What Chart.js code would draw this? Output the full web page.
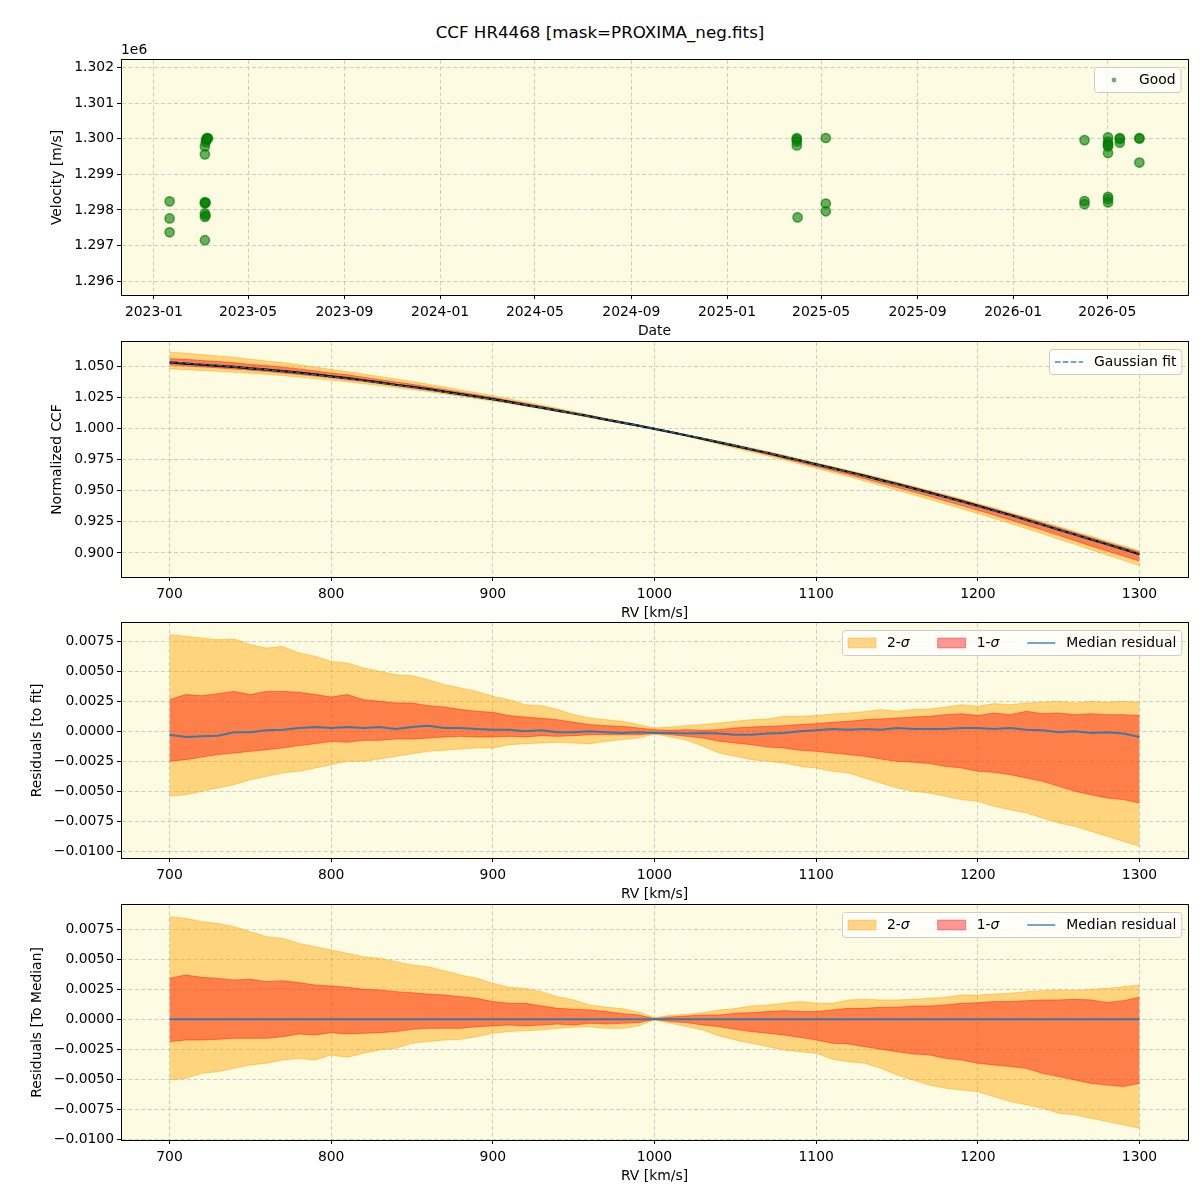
<!DOCTYPE html>
<html><head><meta charset="utf-8">
<script src="https://cdn.jsdelivr.net/npm/chart.js@4"></script>
<style>
html,body{margin:0;padding:0;background:#fff;}
#wrap{position:relative;width:1200px;height:1200px;overflow:hidden;background:#fff;}
canvas{position:absolute;left:0;}
#title{position:absolute;left:0;width:1200px;top:22px;text-align:center;font-family:'DejaVu Sans',sans-serif;font-size:16.7px;color:#000;line-height:20px;}
</style></head><body>
<div id="wrap">
<div id="title">CCF HR4468 [mask=PROXIMA_neg.fits]</div>
<canvas id="c1" width="1200" height="303" style="top:40px"></canvas>
<canvas id="c2" width="1200" height="303" style="top:322px"></canvas>
<canvas id="c3" width="1200" height="303" style="top:603px"></canvas>
<canvas id="c4" width="1200" height="303" style="top:885px"></canvas>
</div>
<script>
// ---------------- DATA ----------------
const obsDates = ['2023-01-21','2023-01-21','2023-01-21',
  '2023-03-07','2023-03-07','2023-03-07','2023-03-07','2023-03-07','2023-03-07','2023-03-07',
  '2023-03-08','2023-03-08','2023-03-08','2023-03-09','2023-03-09','2023-03-10','2023-03-10','2023-03-11',
  '2025-03-31','2025-03-31','2025-03-31','2025-03-31','2025-04-01',
  '2025-05-07','2025-05-07','2025-05-07',
  '2026-04-02','2026-04-02','2026-04-02',
  '2026-05-02','2026-05-02','2026-05-02','2026-05-02','2026-05-02','2026-05-02','2026-05-02','2026-05-02','2026-05-02',
  '2026-05-17','2026-05-17','2026-05-17',
  '2026-06-11','2026-06-11','2026-06-11'];
const obsVelocity = [1298240,1297760,1297370,
  1299560,1299780,1298220,1298180,1297900,1297800,1297150,
  1299900,1298200,1297850,1300000,1299960,1300020,1300000,1300010,
  1300020,1299980,1299920,1299810,1297790,
  1300020,1298180,1297960,
  1299960,1298250,1298160,
  1300040,1299920,1299850,1299820,1299780,1299600,1298370,1298300,1298210,
  1300020,1299990,1299890,
  1300020,1300000,1299330];
const dateTicks = ['2023-01-01','2023-05-01','2023-09-01','2024-01-01','2024-05-01','2024-09-01',
  '2025-01-01','2025-05-01','2025-09-01','2026-01-01','2026-05-01'];
const dateRange = ['2022-11-20','2026-08-12'];
const velocityTicks = [1296000,1297000,1298000,1299000,1300000,1301000,1302000];
const velocityRange = [1295610,1302210];

const rvGrid = [700,710,720,730,740,750,760,770,780,790,800,810,820,830,840,850,860,870,880,890,
  900,910,920,930,940,950,960,970,980,990,1000,1010,1020,1030,1040,1050,1060,1070,1080,1090,
  1100,1110,1120,1130,1140,1150,1160,1170,1180,1190,1200,1210,1220,1230,1240,1250,1260,1270,1280,1290,1300];
const rvTicks = [700,800,900,1000,1100,1200,1300];
const rvRange = [670,1330];

const ccfFit = [1.0537,1.0528,1.0519,1.0509,1.0498,1.0487,1.0475,1.0462,1.0449,1.0434,
  1.0419,1.0403,1.0387,1.0370,1.0352,1.0334,1.0315,1.0296,1.0276,1.0256,
  1.0236,1.0214,1.0192,1.0169,1.0146,1.0123,1.0099,1.0074,1.0050,1.0025,
  1.0000,0.9974,0.9947,0.9920,0.9892,0.9864,0.9835,0.9806,0.9775,0.9744,
  0.9712,0.9681,0.9650,0.9618,0.9585,0.9552,0.9518,0.9483,0.9448,0.9412,
  0.9376,0.9339,0.9302,0.9264,0.9226,0.9187,0.9148,0.9109,0.9070,0.9032,0.8994];
const ccfTicks = [0.900,0.925,0.950,0.975,1.000,1.025,1.050];
const ccfRange = [0.8806,1.0698];

// residuals to fit
const fitUp2 = [0.00806,0.00792,0.00778,0.00764,0.00769,0.00722,0.00694,0.00708,0.00653,0.00625,
  0.00583,0.00569,0.00528,0.00500,0.00472,0.00464,0.00430,0.00389,0.00361,0.00333,
  0.00292,0.00264,0.00222,0.00214,0.00181,0.00139,0.00111,0.00097,0.00083,0.00056,
  0.00028,0.00036,0.00047,0.00056,0.00069,0.00083,0.00097,0.00103,0.00125,0.00125,
  0.00131,0.00144,0.00153,0.00164,0.00181,0.00167,0.00181,0.00186,0.00203,0.00222,
  0.00208,0.00231,0.00222,0.00236,0.00242,0.00250,0.00236,0.00250,0.00242,0.00250,0.00242];
const fitLo2 = [-0.00542,-0.00528,-0.00500,-0.00472,-0.00444,-0.00403,-0.00375,-0.00347,-0.00333,-0.00306,
  -0.00278,-0.00250,-0.00250,-0.00231,-0.00208,-0.00186,-0.00167,-0.00158,-0.00147,-0.00139,
  -0.00139,-0.00111,-0.00103,-0.00097,-0.00092,-0.00097,-0.00103,-0.00083,-0.00069,-0.00056,
  -0.00022,-0.00047,-0.00075,-0.00125,-0.00181,-0.00208,-0.00236,-0.00250,-0.00264,-0.00292,
  -0.00306,-0.00333,-0.00347,-0.00389,-0.00431,-0.00472,-0.00500,-0.00514,-0.00542,-0.00569,
  -0.00583,-0.00625,-0.00653,-0.00681,-0.00722,-0.00764,-0.00792,-0.00833,-0.00875,-0.00917,-0.00958];
const fitUp1 = [0.00264,0.00306,0.00297,0.00314,0.00333,0.00306,0.00333,0.00333,0.00325,0.00306,
  0.00286,0.00306,0.00264,0.00250,0.00236,0.00236,0.00214,0.00203,0.00181,0.00167,
  0.00158,0.00131,0.00119,0.00108,0.00097,0.00075,0.00056,0.00047,0.00042,0.00028,
  0.00014,0.00008,0.00014,0.00008,0.00014,0.00028,0.00036,0.00042,0.00047,0.00056,
  0.00064,0.00075,0.00083,0.00097,0.00103,0.00111,0.00119,0.00125,0.00139,0.00147,
  0.00131,0.00153,0.00139,0.00167,0.00147,0.00153,0.00139,0.00147,0.00139,0.00139,0.00131];
const fitLo1 = [-0.00250,-0.00236,-0.00214,-0.00194,-0.00181,-0.00167,-0.00153,-0.00139,-0.00119,-0.00103,
  -0.00083,-0.00092,-0.00075,-0.00075,-0.00064,-0.00064,-0.00056,-0.00047,-0.00042,-0.00047,
  -0.00047,-0.00042,-0.00047,-0.00036,-0.00042,-0.00036,-0.00028,-0.00028,-0.00028,-0.00028,
  -0.00019,-0.00028,-0.00042,-0.00056,-0.00083,-0.00097,-0.00111,-0.00131,-0.00139,-0.00158,
  -0.00167,-0.00181,-0.00194,-0.00208,-0.00231,-0.00250,-0.00258,-0.00269,-0.00292,-0.00306,
  -0.00333,-0.00342,-0.00361,-0.00389,-0.00417,-0.00458,-0.00500,-0.00528,-0.00556,-0.00569,-0.00597];
const fitMedian = [-0.00028,-0.00047,-0.00042,-0.00036,-0.00008,-0.00008,0.00008,0.00014,0.00028,0.00036,
  0.00028,0.00036,0.00028,0.00036,0.00019,0.00036,0.00047,0.00028,0.00028,0.00019,
  0.00014,0.00014,0.00000,0.00008,-0.00008,-0.00008,0.00000,-0.00008,-0.00014,-0.00008,
  -0.00014,-0.00014,-0.00019,-0.00014,-0.00019,-0.00028,-0.00028,-0.00019,-0.00014,0.00000,
  0.00008,0.00019,0.00014,0.00019,0.00014,0.00028,0.00019,0.00019,0.00019,0.00028,
  0.00028,0.00019,0.00028,0.00014,0.00008,-0.00008,0.00000,-0.00014,-0.00008,-0.00019,-0.00047];
const fitResidTicks = [-0.0100,-0.0075,-0.0050,-0.0025,0.0000,0.0025,0.0050,0.0075];
const fitResidRange = [-0.01056,0.00903];

// residuals to median
const medUp2 = [0.00853,0.00839,0.00811,0.00797,0.00770,0.00728,0.00687,0.00673,0.00631,0.00604,
  0.00576,0.00548,0.00520,0.00507,0.00479,0.00451,0.00437,0.00404,0.00368,0.00341,
  0.00299,0.00266,0.00257,0.00230,0.00188,0.00161,0.00119,0.00100,0.00089,0.00061,
  0.00014,0.00033,0.00042,0.00055,0.00077,0.00089,0.00111,0.00119,0.00133,0.00147,
  0.00133,0.00133,0.00161,0.00166,0.00161,0.00161,0.00166,0.00174,0.00183,0.00202,
  0.00202,0.00210,0.00216,0.00230,0.00238,0.00244,0.00238,0.00249,0.00257,0.00271,0.00285];
const medLo2 = [-0.00504,-0.00490,-0.00449,-0.00435,-0.00407,-0.00379,-0.00365,-0.00338,-0.00324,-0.00338,
  -0.00296,-0.00316,-0.00282,-0.00255,-0.00241,-0.00199,-0.00185,-0.00172,-0.00166,-0.00144,
  -0.00116,-0.00102,-0.00094,-0.00089,-0.00075,-0.00066,-0.00061,-0.00075,-0.00075,-0.00055,
  -0.00006,-0.00033,-0.00061,-0.00089,-0.00138,-0.00172,-0.00199,-0.00227,-0.00255,-0.00269,
  -0.00282,-0.00332,-0.00352,-0.00365,-0.00407,-0.00463,-0.00504,-0.00546,-0.00573,-0.00587,
  -0.00601,-0.00642,-0.00684,-0.00711,-0.00739,-0.00780,-0.00794,-0.00822,-0.00850,-0.00877,-0.00905];
const medUp1 = [0.00340,0.00368,0.00349,0.00340,0.00327,0.00332,0.00313,0.00321,0.00305,0.00285,
  0.00277,0.00266,0.00249,0.00244,0.00230,0.00221,0.00210,0.00202,0.00188,0.00174,
  0.00147,0.00133,0.00133,0.00111,0.00091,0.00083,0.00078,0.00064,0.00047,0.00036,
  0.00006,0.00019,0.00028,0.00036,0.00036,0.00050,0.00055,0.00064,0.00072,0.00064,
  0.00064,0.00078,0.00091,0.00091,0.00100,0.00100,0.00111,0.00111,0.00119,0.00133,
  0.00138,0.00147,0.00147,0.00155,0.00161,0.00161,0.00166,0.00161,0.00140,0.00155,0.00183];
const medLo1 = [-0.00185,-0.00172,-0.00172,-0.00166,-0.00158,-0.00158,-0.00158,-0.00144,-0.00122,-0.00130,
  -0.00111,-0.00122,-0.00116,-0.00111,-0.00102,-0.00083,-0.00075,-0.00075,-0.00075,-0.00061,
  -0.00055,-0.00047,-0.00055,-0.00047,-0.00039,-0.00047,-0.00033,-0.00039,-0.00033,-0.00028,
  0.00000,-0.00019,-0.00028,-0.00047,-0.00061,-0.00083,-0.00102,-0.00116,-0.00130,-0.00150,
  -0.00172,-0.00199,-0.00205,-0.00227,-0.00249,-0.00269,-0.00288,-0.00296,-0.00324,-0.00338,
  -0.00365,-0.00379,-0.00393,-0.00407,-0.00449,-0.00476,-0.00504,-0.00532,-0.00546,-0.00559,-0.00532];
const medMedianRV = [700,1300];
const medMedian = [0,0];
const medResidTicks = [-0.0100,-0.0075,-0.0050,-0.0025,0.0000,0.0025,0.0050,0.0075];
const medResidRange = [-0.01003,0.00950];

// ---------------- STYLE ----------------
const FONT = "'DejaVu Sans', sans-serif";
const FS = 13.9;
const BG = '#fdfbe2';
const GRID = 'rgba(176,176,176,0.6)';
const C_2S = 'rgba(255,165,0,0.45)';
const C_1S = 'rgba(255,0,0,0.4)';
const C_MED = 'rgba(31,119,180,0.85)';
const C_FIT = 'rgba(31,119,180,0.85)';

Chart.defaults.font.family = FONT;
Chart.defaults.font.size = FS;
Chart.defaults.color = '#000';
Chart.defaults.animation = false;

const toMs = s => Date.parse(s + 'T00:00:00Z');
const uminus = s => s.replace('-', '\u2212');

function fixedTicks(values) { return function (scale) { scale.ticks = values.map(v => ({ value: v })); }; }

function xAxis(range, ticks, fmt, title) {
  return {
    type: 'linear', min: range[0], max: range[1],
    afterBuildTicks: fixedTicks(ticks),
    afterFit(s) { s.height = 48; },
    ticks: { autoSkip: false, maxRotation: 0, minRotation: 0, padding: 5.5, callback: fmt },
    grid: { color: GRID, lineWidth: 1, tickColor: '#000', tickLength: 4, tickWidth: 1, tickBorderDash: [] },
    border: { display: true, color: '#000', width: 1, dash: [4, 2.5] },
    title: { display: true, text: title, padding: { top: 0, bottom: 3 } }
  };
}
function yAxis(range, ticks, fmt, title, titleX) {
  return {
    type: 'linear', min: range[0], max: range[1],
    afterBuildTicks: fixedTicks(ticks),
    afterFit(s) { s.width = 121; },
    ticks: { autoSkip: false, padding: 3, callback: fmt },
    grid: { color: GRID, lineWidth: 1, tickColor: '#000', tickLength: 4, tickWidth: 1, tickBorderDash: [] },
    border: { display: true, color: '#000', width: 1, dash: [4, 2.5] },
    title: { display: true, text: title, padding: { top: titleX - FS * 0.6, bottom: 0 } }
  };
}

function partsWidth(c, parts) {
  let w = 0;
  parts.forEach(p => { c.font = (p.it ? 'italic ' : '') + FS + 'px ' + FONT; w += c.measureText(p.t).width; });
  return w;
}
function drawLegend(c, a, items) {
  const pad = 5.5, hl = 28, tp = 11, cs = 28, h = 25;
  let w = 2 * pad;
  items.forEach((it, i) => { it.w = partsWidth(c, it.label); w += hl + tp + it.w + (i ? cs : 0); });
  const x0 = Math.round(a.right - 7 - w) + 0.5, y0 = Math.round(a.top + 7) + 0.5;
  c.save();
  c.beginPath();
  if (c.roundRect) c.roundRect(x0, y0, w, h, 3); else c.rect(x0, y0, w, h);
  c.fillStyle = 'rgba(255,255,255,0.8)'; c.fill();
  c.strokeStyle = '#cccccc'; c.lineWidth = 1; c.stroke();
  let x = x0 + pad; const yc = y0 + h / 2;
  items.forEach((it, i) => {
    if (i) x += cs;
    if (it.kind === 'marker') {
      c.beginPath(); c.arc(x + hl / 2, yc, 2.4, 0, Math.PI * 2); c.fillStyle = it.color; c.fill();
    } else if (it.kind === 'patch') {
      c.fillStyle = it.fill; c.fillRect(x, yc - 4.9, hl, 9.8);
      c.strokeStyle = it.edge; c.lineWidth = 1; c.strokeRect(x, yc - 4.9, hl, 9.8);
    } else {
      c.beginPath(); c.setLineDash(it.dash || []); c.strokeStyle = it.color; c.lineWidth = it.width || 1.5;
      c.moveTo(x, yc); c.lineTo(x + hl, yc); c.stroke(); c.setLineDash([]);
    }
    x += hl + tp;
    c.fillStyle = '#000'; c.textBaseline = 'middle'; c.textAlign = 'left';
    it.label.forEach(p => {
      c.font = (p.it ? 'italic ' : '') + FS + 'px ' + FONT;
      c.fillText(p.t, x, yc + 0.5); x += c.measureText(p.t).width;
    });
  });
  c.restore();
}

const decor = {
  id: 'mplDecor',
  beforeDraw(chart) {
    const a = chart.chartArea, c = chart.ctx;
    c.save(); c.fillStyle = BG; c.fillRect(a.left, a.top, a.right - a.left, a.bottom - a.top); c.restore();
  },
  afterDraw(chart, args, opts) {
    const a = chart.chartArea, c = chart.ctx;
    c.save();
    c.strokeStyle = '#000'; c.lineWidth = 1;
    c.strokeRect(Math.round(a.left) + 0.5, Math.round(a.top) - 0.5, Math.round(a.right - a.left), Math.round(a.bottom - a.top) + 1);
    if (opts.offsetText) {
      c.font = FS + 'px ' + FONT; c.fillStyle = '#000'; c.textAlign = 'left'; c.textBaseline = 'bottom';
      c.fillText(opts.offsetText, a.left, a.top - 3);
    }
    c.restore();
    if (opts.legend) drawLegend(c, a, opts.legend);
  }
};

const baseOpts = {
  responsive: false, maintainAspectRatio: false, devicePixelRatio: 1, animation: false,
  layout: { padding: { left: 0, right: 12, top: 20, bottom: 0 } },
  elements: { point: { radius: 0 }, line: { tension: 0 } }
};
const pts = (xs, ys) => xs.map((x, i) => ({ x: x, y: ys[i] }));
const addArr = (a, b) => a.map((v, i) => v + b[i]);
const sigLabel = n => [{ t: n + '-' }, { t: '\u03c3', it: true }];
const residLegend = [
  { kind: 'patch', fill: C_2S, edge: C_2S, label: sigLabel(2) },
  { kind: 'patch', fill: C_1S, edge: C_1S, label: sigLabel(1) },
  { kind: 'line', color: C_MED, width: 1.5, label: [{ t: 'Median residual' }] }
];

// ---------------- PANEL 1 ----------------
new Chart(document.getElementById('c1'), {
  type: 'scatter',
  data: { datasets: [{
    label: 'Good',
    data: obsDates.map((d, i) => ({ x: toMs(d), y: obsVelocity[i] })),
    backgroundColor: 'rgba(0,128,0,0.6)', borderColor: 'rgba(0,120,0,0.65)', borderWidth: 1.5,
    pointRadius: 4.6, pointHoverRadius: 4.6
  }] },
  options: Object.assign({}, baseOpts, {
    scales: {
      x: xAxis(dateRange.map(toMs), dateTicks.map(toMs), v => {
        const d = new Date(v); return d.getUTCFullYear() + '-' + String(d.getUTCMonth() + 1).padStart(2, '0');
      }, 'Date'),
      y: yAxis(velocityRange, velocityTicks, v => (v / 1e6).toFixed(3), 'Velocity [m/s]', 57)
    },
    plugins: { legend: { display: false }, tooltip: { enabled: false },
      mplDecor: { offsetText: '1e6', legend: [{ kind: 'marker', color: 'rgba(0,128,0,0.6)', label: [{ t: 'Good' }] }] } }
  }),
  plugins: [decor]
});

// ---------------- PANEL 2 ----------------
new Chart(document.getElementById('c2'), {
  type: 'line',
  data: { datasets: [
    { data: pts(rvGrid, ccfFit), borderColor: C_FIT, borderWidth: 1.5, borderDash: [5.5, 2.4], fill: false },
    { data: pts(rvGrid, addArr(ccfFit, fitMedian)), borderColor: '#000', borderWidth: 2.2, fill: false },
    { data: pts(rvGrid, addArr(ccfFit, fitUp1)), borderColor: C_1S, backgroundColor: C_1S, borderWidth: 1, fill: 3 },
    { data: pts(rvGrid, addArr(ccfFit, fitLo1)), borderColor: C_1S, borderWidth: 1, fill: false },
    { data: pts(rvGrid, addArr(ccfFit, fitUp2)), borderColor: C_2S, backgroundColor: C_2S, borderWidth: 1, fill: 5 },
    { data: pts(rvGrid, addArr(ccfFit, fitLo2)), borderColor: C_2S, borderWidth: 1, fill: false }
  ] },
  options: Object.assign({}, baseOpts, {
    scales: {
      x: xAxis(rvRange, rvTicks, v => String(v), 'RV [km/s]'),
      y: yAxis(ccfRange, ccfTicks, v => v.toFixed(3), 'Normalized CCF', 57)
    },
    plugins: { legend: { display: false }, tooltip: { enabled: false },
      mplDecor: { legend: [{ kind: 'line', color: C_FIT, width: 1.5, dash: [5.5, 2.4], label: [{ t: 'Gaussian fit' }] }] } }
  }),
  plugins: [decor]
});

// ---------------- PANEL 3 ----------------
new Chart(document.getElementById('c3'), {
  type: 'line',
  data: { datasets: [
    { data: pts(rvGrid, fitMedian), borderColor: C_MED, borderWidth: 2, fill: false },
    { data: pts(rvGrid, fitUp1), borderColor: C_1S, backgroundColor: C_1S, borderWidth: 1, fill: 2 },
    { data: pts(rvGrid, fitLo1), borderColor: C_1S, borderWidth: 1, fill: false },
    { data: pts(rvGrid, fitUp2), borderColor: C_2S, backgroundColor: C_2S, borderWidth: 1, fill: 4 },
    { data: pts(rvGrid, fitLo2), borderColor: C_2S, borderWidth: 1, fill: false }
  ] },
  options: Object.assign({}, baseOpts, {
    scales: {
      x: xAxis(rvRange, rvTicks, v => String(v), 'RV [km/s]'),
      y: yAxis(fitResidRange, fitResidTicks, v => uminus(v.toFixed(4)), 'Residuals [to fit]', 37)
    },
    plugins: { legend: { display: false }, tooltip: { enabled: false }, mplDecor: { legend: residLegend } }
  }),
  plugins: [decor]
});

// ---------------- PANEL 4 ----------------
new Chart(document.getElementById('c4'), {
  type: 'line',
  data: { datasets: [
    { data: pts(medMedianRV, medMedian), borderColor: C_MED, borderWidth: 2, fill: false },
    { data: pts(rvGrid, medUp1), borderColor: C_1S, backgroundColor: C_1S, borderWidth: 1, fill: 2 },
    { data: pts(rvGrid, medLo1), borderColor: C_1S, borderWidth: 1, fill: false },
    { data: pts(rvGrid, medUp2), borderColor: C_2S, backgroundColor: C_2S, borderWidth: 1, fill: 4 },
    { data: pts(rvGrid, medLo2), borderColor: C_2S, borderWidth: 1, fill: false }
  ] },
  options: Object.assign({}, baseOpts, {
    scales: {
      x: xAxis(rvRange, rvTicks, v => String(v), 'RV [km/s]'),
      y: yAxis(medResidRange, medResidTicks, v => uminus(v.toFixed(4)), 'Residuals [To Median]', 37)
    },
    plugins: { legend: { display: false }, tooltip: { enabled: false }, mplDecor: { legend: residLegend.map(o => Object.assign({}, o)) } }
  }),
  plugins: [decor]
});
</script>
</body></html>
